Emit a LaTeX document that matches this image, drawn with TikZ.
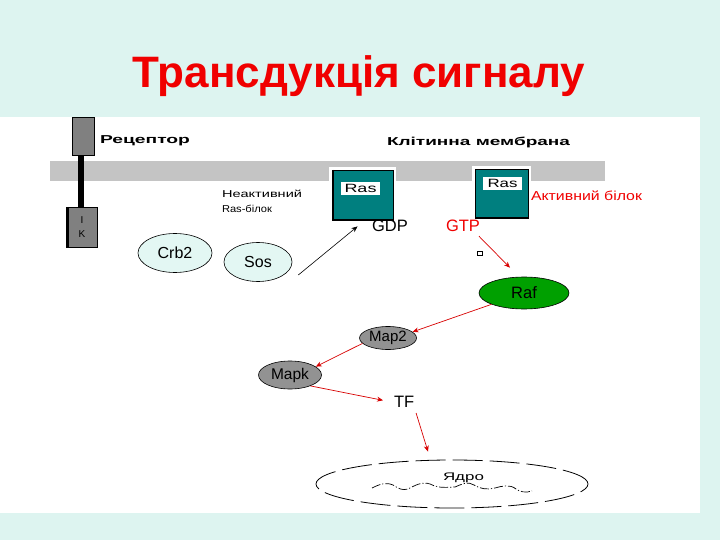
\documentclass[tikz,border=0pt]{standalone}
\usepackage{fontspec}
\setmainfont{Liberation Sans}
\usetikzlibrary{shapes.geometric,arrows.meta}
\definecolor{bgc}{HTML}{DDF4F0}
\definecolor{titred}{HTML}{F00000}
\definecolor{arred}{HTML}{D80000}
\definecolor{rasteal}{HTML}{007F7F}
\definecolor{rafgreen}{HTML}{00A000}
\definecolor{mapgray}{HTML}{929292}
\definecolor{recgray}{HTML}{808080}
\definecolor{memgray}{HTML}{C4C4C4}
\definecolor{crbfill}{HTML}{E3F7F3}
\newcommand\wtxt[2]{\resizebox{#1pt}{\height}{#2}}
\begin{document}
\begin{tikzpicture}[x=1pt,y=-1pt,
  txt/.style={inner sep=0pt, outer sep=0pt},
  big/.style={txt, font=\fontsize{16.5}{18}\selectfont},
  ell/.style={ellipse, draw=black, line width=0.6pt, inner sep=0pt},
  arr/.style={draw=arred, line width=0.7pt, -{Stealth[length=6pt,width=5pt]}},
  arb/.style={draw=black, line width=0.6pt, -{Stealth[length=6pt,width=5pt]}},
  rasbox/.style={rectangle, fill=rasteal, draw=black, line width=0.8pt, inner sep=0pt},
  raslbl/.style={rectangle, fill=white, inner sep=0pt, font=\fontsize{12}{12}\selectfont}
]
\useasboundingbox (0,0) rectangle (720,540);
\fill[bgc] (0,0) rectangle (720,540);
\fill[white] (0,117) rectangle (700,513);

% title
\node[txt, anchor=base, text=titred, font=\fontsize{44}{50}\selectfont\bfseries] (title) at (359,88) {Трансдукція сигналу};

% membrane
\fill[memgray] (50,161) rectangle (605,181);
\fill[white] (329,167) rectangle (396,182);
\fill[white] (472,166) rectangle (531,182);

% receptor
\draw[black, line width=6pt] (81,155) -- (81,207);
\node[rectangle, fill=recgray, draw=black, line width=0.8pt, minimum width=22pt, minimum height=38pt, inner sep=0pt] (rec) at (83,136) {};
\node[rectangle, fill=recgray, draw=black, line width=0.6pt, minimum width=31pt, minimum height=40pt, inner sep=0pt] (ik) at (82,227) {};
\draw[black, line width=2.5pt] (67.5,207) -- (67.5,247);
\node[txt, anchor=base, font=\fontsize{10}{10}\selectfont] (ikI) at (82,223) {I};
\node[txt, anchor=base, font=\fontsize{10}{10}\selectfont] (ikK) at (82,237) {K};

% labels
\node[txt, anchor=base west] (recl) at (100,144) {\wtxt{90}{\fontsize{11.5}{12}\selectfont\bfseries Рецептор}};
\node[txt, anchor=base west] (meml) at (387,146) {\wtxt{183}{\fontsize{11.5}{12}\selectfont\bfseries Клітинна мембрана}};
\node[txt, anchor=base west] (inact1) at (222,197) {\wtxt{80}{\fontsize{10}{11}\selectfont Неактивний}};
\node[txt, anchor=base west] (inact2) at (222,212) {\wtxt{50}{\fontsize{10}{11}\selectfont Ras-білок}};
\node[txt, anchor=base west, text=titred] (act) at (531,201) {\wtxt{111}{\fontsize{13}{14}\selectfont Активний білок}};

% Ras boxes
\node[rasbox, minimum width=61pt, minimum height=50pt] (ras1) at (362.5,195) {};
\draw[black, line width=2.5pt] (333,170) -- (333,220) -- (393,220);
\node[raslbl, minimum width=39pt, minimum height=13pt] (ras1l) at (360.5,188.5) {\wtxt{32}{Ras}};
\node[rasbox, minimum width=53pt, minimum height=49pt] (ras2) at (501.5,193.5) {};
\draw[black, line width=1.6pt] (475.5,169) -- (475.5,218) -- (528,218);
\node[raslbl, minimum width=39pt, minimum height=13pt] (ras2l) at (502.5,183.5) {\wtxt{30}{Ras}};

\node[big, anchor=base west] (gdp) at (372,232) {GDP};
\node[big, anchor=base west, text=titred] (gtp) at (446,232) {GTP};
\draw[black, line width=0.7pt] (477,251.5) rectangle (482,255);

% Crb2, Sos
\node[ell, fill=crbfill, minimum width=74pt, minimum height=39pt, font=\fontsize{16}{18}\selectfont] (crb) at (175,253) {Crb2};
\node[ell, fill=crbfill, minimum width=68pt, minimum height=39pt, font=\fontsize{16}{18}\selectfont] (sos) at (258,262) {Sos};

% cascade
\node[ell, fill=rafgreen, minimum width=90pt, minimum height=32pt, font=\fontsize{16.5}{18}\selectfont] (raf) at (524,293) {Raf};
\node[ell, fill=mapgray, minimum width=57pt, minimum height=23pt, font=\fontsize{15}{17}\selectfont] (map2) at (388,338) {Map2};
\node[ell, fill=mapgray, minimum width=63pt, minimum height=28pt, font=\fontsize{15.5}{17}\selectfont] (mapk) at (290,375) {Mapk};
\node[big, anchor=base west] (tf) at (394,407) {TF};

% nucleus
\node[ellipse, draw=black, line width=0.8pt, dash pattern=on 30pt off 7pt, minimum width=272pt, minimum height=48pt, inner sep=0pt] (nuc) at (452,484) {};
\node[txt, anchor=base west] (yadro) at (443,480) {\wtxt{41}{\fontsize{11}{12}\selectfont Ядро}};
\draw[black, line width=0.7pt, dash pattern=on 9pt off 2pt on 1.2pt off 2pt]
  (372,488) .. controls (380,484) and (386,482) .. (393,485)
  .. controls (398,488) and (402,491) .. (408,489)
  .. controls (414,486) and (422,481) .. (430,484)
  .. controls (436,487) and (440,488) .. (455,487)
  .. controls (462,484) and (468,481) .. (474,485)
  .. controls (480,489) and (488,490) .. (495,488)
  .. controls (502,486) and (510,484) .. (516,489)
  .. controls (520,492) and (526,493) .. (532,491);

% connectors
\draw[arb] ([shift={(6,13)}]sos.east) -- ([shift={(-5,6)}]ras1.south);
\draw[arr] ([shift={(-1,4)}]gtp.south east) -- ([shift={(-14,-9)}]raf.north);
\draw[arr] (raf) -- (map2.14);
\draw[arr] (map2.192) -- (mapk.18);
\draw[arr] (mapk.-28) -- ([shift={(-11,-1)}]tf.west);
\draw[arr] ([shift={(12,6)}]tf.south) -- ([shift={(-24,-8)}]nuc.north);
\end{tikzpicture}
\end{document}
